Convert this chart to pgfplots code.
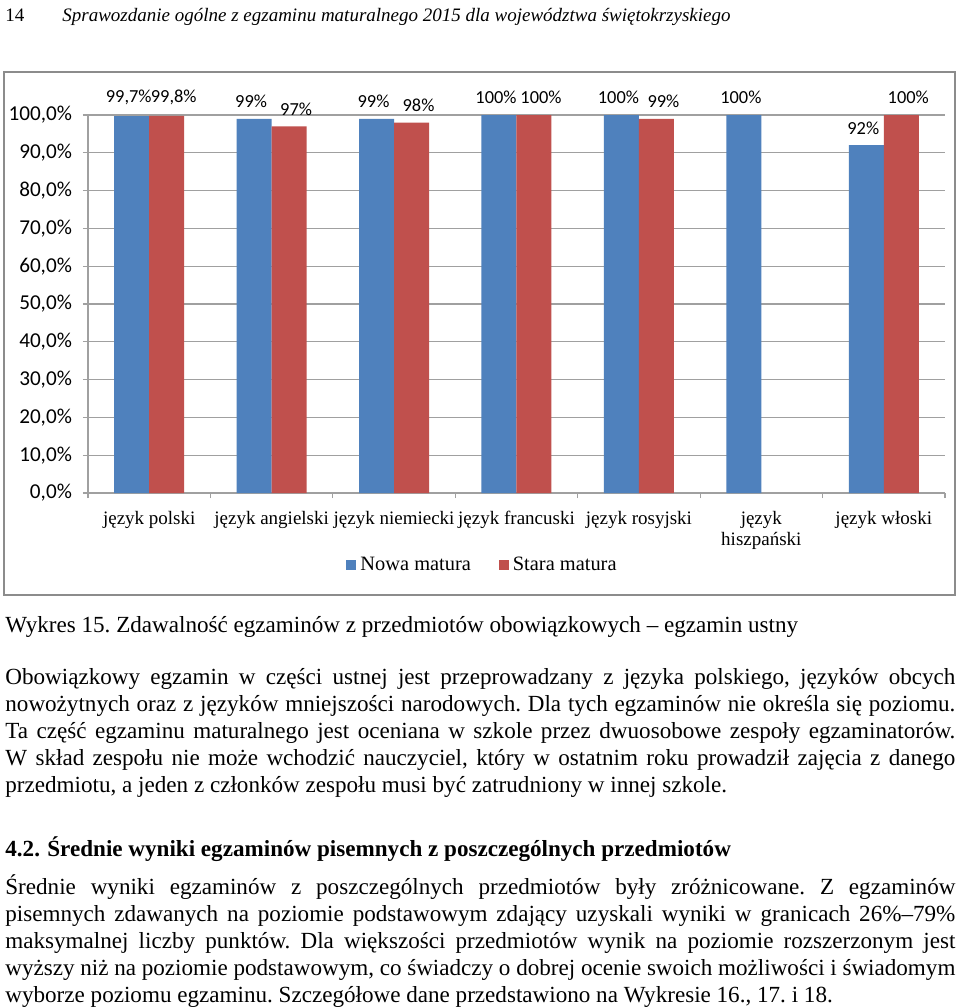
\documentclass[border=0pt]{standalone}
\usepackage{fontspec}
\setmainfont{Liberation Serif}
\newfontfamily\calib{Carlito}
\usepackage{pgfplots}
\pgfplotsset{compat=1.18}
\definecolor{nowa}{HTML}{4F81BD}
\definecolor{stara}{HTML}{C0504D}
\definecolor{siatka}{HTML}{A0A0A0}
\definecolor{ramka}{HTML}{8C8C8C}
\newcommand\body{\fontsize{11.55}{13.5}\selectfont}
\newcommand\linia[1]{\makebox[475pt][s]{#1}}
\frenchspacing
\begin{document}
\begin{tikzpicture}[x=0.5pt,y=-0.5pt]
\fill[white] (0,0) rectangle (960,1008);
% naglowek strony
\node[anchor=base west, inner sep=0, font=\fontsize{9.5}{12}\selectfont] at (5,21) {14};
\node[anchor=base west, inner sep=0, font=\fontsize{9.5}{12}\selectfont\itshape] at (62,21)
  {Sprawozdanie ogólne z egzaminu maturalnego 2015 dla województwa świętokrzyskiego};
% ramka wykresu
\draw[ramka, line width=0.6pt] (4,72) rectangle (955,595);
\coordinate (poczatek) at (88,493);
\begin{axis}[
  at={(poczatek)}, anchor=south west, scale only axis,
  width=428.5pt, height=189pt,
  ybar=0pt, bar width=17.5pt,
  xmin=-0.5, xmax=6.5, ymin=0, ymax=100,
  axis x line*=bottom, axis y line*=left,
  axis line style={siatka, line width=0.6pt},
  ymajorgrids, grid style={siatka, line width=0.6pt},
  ytick={0,10,...,100},
  yticklabels={{0,0\%},{10,0\%},{20,0\%},{30,0\%},{40,0\%},{50,0\%},{60,0\%},{70,0\%},{80,0\%},{90,0\%},{100,0\%}},
  yticklabel style={font=\calib\fontsize{10.6}{12}\selectfont, xshift=-2pt},
  xtick={0,...,6}, major x tick style={draw=none},
  minor xtick={-0.5,0.5,...,6.5},
  tick align=outside, tick style={siatka, line width=0.6pt},
  major tick length=2.5pt, minor tick length=2.5pt,
  xticklabels={{język polski},{język angielski},{język niemiecki},{język francuski},{język rosyjski},{język\\hiszpański},{język włoski}},
  xticklabel style={font=\fontsize{9.5}{10.5}\selectfont, align=center, anchor=north, yshift=-3pt},
  nodes near coords, point meta=explicit symbolic,
  every node near coord/.append style={font=\calib\fontsize{9.2}{11}\selectfont, anchor=south, yshift=2pt},
  legend style={draw=none, fill=none, legend columns=2, at={(0.4615,-0.19)}, anchor=center,
    font=\fontsize{10.2}{12}\selectfont,
    /tikz/every even column/.append style={column sep=12pt}},
]
\addplot[fill=nowa, draw=none,
  every node near coord/.append style={xshift=-1.5pt},
  legend image code/.code={\fill[nowa] (0pt,-2.5pt) rectangle (5pt,2.5pt);}]
  coordinates {(0,99.7) [99,7\%] (1,99) [99\%] (2,99) [99\%] (3,100) [100\%] (4,100) [100\%] (5,100) [100\%] (6,92) [92\%]};
\addlegendentry{Nowa matura}
\addplot[fill=stara, draw=none,
  every node near coord/.append style={xshift=3.5pt},
  legend image code/.code={\fill[stara] (0pt,-2.5pt) rectangle (5pt,2.5pt);}]
  coordinates {(0,99.8) [99,8\%] (1,97) [97\%] (2,98) [98\%] (3,100) [100\%] (4,99) [99\%] (6,100) [100\%]};
\addlegendentry{Stara matura}
\end{axis}
% podpis i tekst
\node[anchor=base west, inner sep=0, font=\body] at (5,632)
  {Wykres 15. Zdawalność egzaminów z przedmiotów obowiązkowych – egzamin ustny};
\begin{scope}[every node/.style={anchor=base west, inner sep=0, font=\body}]
\node at (5,684) {\linia{Obowiązkowy egzamin w części ustnej jest przeprowadzany z języka polskiego, języków obcych}};
\node at (5,711) {\linia{nowożytnych oraz z języków mniejszości narodowych. Dla tych egzaminów nie określa się poziomu.}};
\node at (5,738) {\linia{Ta część egzaminu maturalnego jest oceniana w szkole przez dwuosobowe zespoły egzaminatorów.}};
\node at (5,765) {\linia{W skład zespołu nie może wchodzić nauczyciel, który w ostatnim roku prowadził zajęcia z danego}};
\node at (5,792) {przedmiotu, a jeden z członków zespołu musi być zatrudniony w innej szkole.};
\node[font=\body\bfseries] at (5,856) {4.2.};
\node[font=\body\bfseries] at (47,856) {Średnie wyniki egzaminów pisemnych z poszczególnych przedmiotów};
\node at (5,894) {\linia{Średnie wyniki egzaminów z poszczególnych przedmiotów były zróżnicowane. Z egzaminów}};
\node at (5,921) {\linia{pisemnych zdawanych na poziomie podstawowym zdający uzyskali wyniki w granicach 26\%–79\%}};
\node at (5,948) {\linia{maksymalnej liczby punktów. Dla większości przedmiotów wynik na poziomie rozszerzonym jest}};
\node at (5,975) {\linia{wyższy niż na poziomie podstawowym, co świadczy o dobrej ocenie swoich możliwości i świadomym}};
\node at (5,1002) {wyborze poziomu egzaminu. Szczegółowe dane przedstawiono na Wykresie 16., 17. i 18.};
\end{scope}
\end{tikzpicture}
\end{document}
